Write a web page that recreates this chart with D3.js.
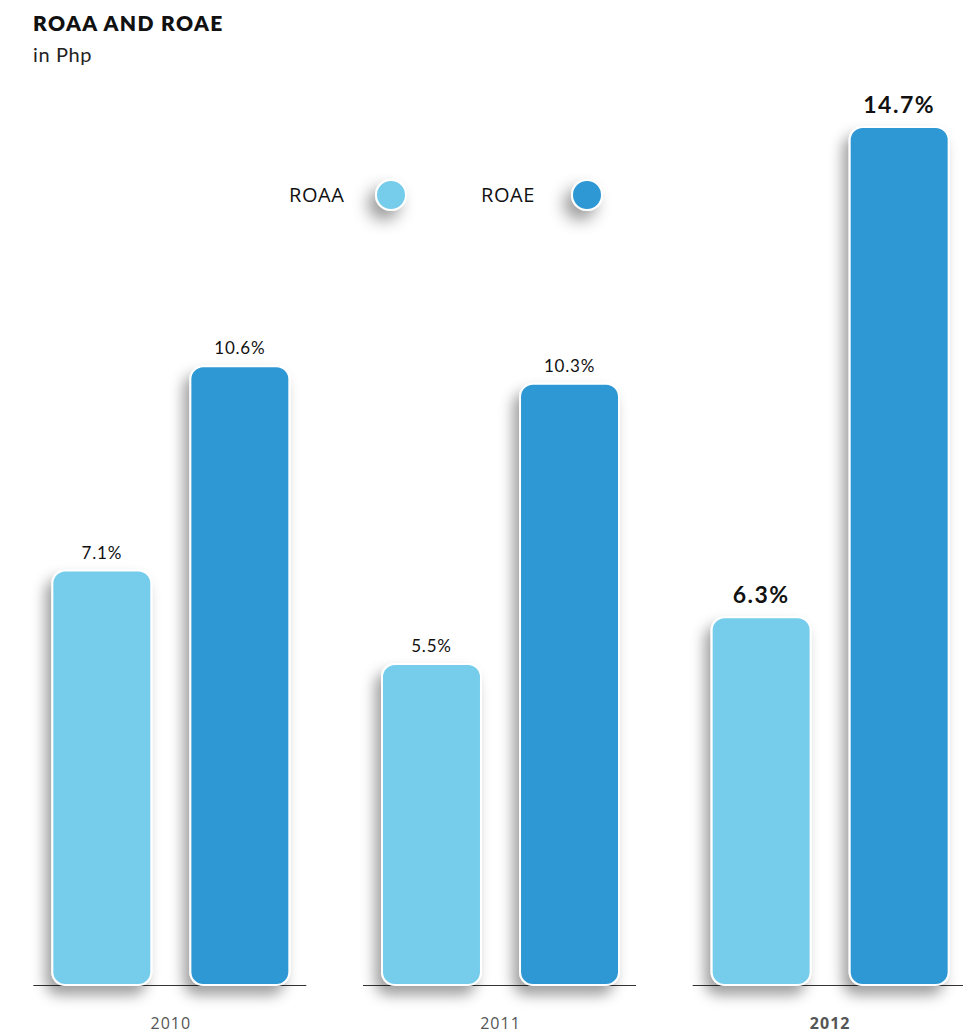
<!DOCTYPE html>
<html>
<head>
<meta charset="utf-8">
<script src="https://cdn.jsdelivr.net/npm/d3@7/dist/d3.min.js"></script>
<style>
  html, body { margin: 0; padding: 0; background: #fff; }
  svg { display: block; }
</style>
</head>
<body>
<svg id="chart" width="963" height="1034"></svg>
<script>
// Return on average assets / equity, per year
const years = ["2010", "2011", "2012"];
const seriesNames = ["ROAA", "ROAE"];
const roaa = [7.1, 5.5, 6.3];
const roae = [10.6, 10.3, 14.7];
const colors = ["#76cdeb", "#2f98d4"];
const highlightYear = "2012";

const svg = d3.select("#chart");
const baseY = 985;

// drop shadows for bars and legend dots
const defs = svg.append("defs");
const f = defs.append("filter").attr("id", "shadow")
  .attr("x", "-40%").attr("y", "-20%").attr("width", "170%").attr("height", "150%");
f.append("feDropShadow").attr("dx", -6).attr("dy", 9)
  .attr("stdDeviation", 7).attr("flood-color", "#000").attr("flood-opacity", 0.38);
const fd = defs.append("filter").attr("id", "dotShadow")
  .attr("x", "-150%").attr("y", "-150%").attr("width", "400%").attr("height", "400%");
fd.append("feDropShadow").attr("dx", -7).attr("dy", 9)
  .attr("stdDeviation", 8).attr("flood-color", "#000").attr("flood-opacity", 0.4);

// title
svg.append("text").attr("x", 33).attr("y", 31)
  .attr("font-family", "Lato, sans-serif").attr("font-weight", 800)
  .attr("font-size", 21).attr("letter-spacing", 1.4)
  .attr("fill", "#111").text("ROAA AND ROAE");
svg.append("text").attr("x", 33).attr("y", 62)
  .attr("font-family", "Lato, sans-serif").attr("font-size", 20)
  .attr("letter-spacing", 0.6)
  .attr("fill", "#222").text("in Php");

// scales
const x0 = d3.scaleBand().domain(years).range([6, 995]);
const x1 = d3.scaleBand().domain(seriesNames).range([0, 237]).paddingInner(0.283);
const y = d3.scaleLinear().domain([0, 14.7]).range([baseY, 127]);

const rows = years.map((yr, i) => ({ year: yr, values: [roaa[i], roae[i]] }));

const groups = svg.selectAll("g.year").data(rows).join("g")
  .attr("class", "year")
  .attr("transform", d => `translate(${x0(d.year) + x0.bandwidth() / 2 - 118.5},0)`);

// baseline segment under each pair
groups.append("line")
  .attr("x1", -19).attr("x2", 237 + 17)
  .attr("y1", baseY + 0.5).attr("y2", baseY + 0.5)
  .attr("stroke", "#333").attr("stroke-width", 1.2);

const cells = d => d.values.map((v, k) => ({ v, k, name: seriesNames[k], year: d.year }));

// bars
groups.selectAll("rect.bar")
  .data(cells)
  .join("rect")
  .attr("class", "bar")
  .attr("x", d => x1(d.name))
  .attr("y", d => y(d.v))
  .attr("width", x1.bandwidth())
  .attr("height", d => baseY - y(d.v))
  .attr("rx", 13).attr("ry", 13)
  .attr("fill", d => colors[d.k])
  .attr("stroke", "#fff").attr("stroke-width", 2)
  .attr("filter", "url(#shadow)");

// value labels
groups.selectAll("text.val")
  .data(cells)
  .join("text")
  .attr("class", "val")
  .attr("x", d => x1(d.name) + x1.bandwidth() / 2)
  .attr("y", d => y(d.v) - (d.year === highlightYear ? 14 : 12))
  .attr("text-anchor", "middle")
  .attr("font-family", "Lato, sans-serif")
  .attr("font-weight", d => d.year === highlightYear ? 700 : 400)
  .attr("font-size", d => d.year === highlightYear ? 23 : 17)
  .attr("letter-spacing", d => d.year === highlightYear ? 1.5 : 0.8)
  .attr("fill", "#111")
  .text(d => d.v.toFixed(1) + "%");

// year labels
groups.append("text")
  .attr("x", 118.5).attr("y", 1029)
  .attr("text-anchor", "middle")
  .attr("font-family", "'Open Sans', sans-serif")
  .attr("font-weight", d => d.year === highlightYear ? 700 : 400)
  .attr("font-size", 16).attr("letter-spacing", 1)
  .attr("fill", "#555")
  .text(d => d.year);

// legend
const legendItems = svg.append("g").selectAll("g").data(seriesNames).join("g")
  .attr("transform", (d, i) => `translate(${289 + i * 192},195)`);
legendItems.append("text")
  .attr("x", 0).attr("y", 7)
  .attr("font-family", "'Open Sans', sans-serif").attr("font-size", 20)
  .attr("letter-spacing", 0.6)
  .attr("fill", "#111").text(d => d);
legendItems.append("circle")
  .attr("cx", (d, i) => i === 0 ? 102 : 106).attr("cy", 0).attr("r", 15)
  .attr("fill", (d, i) => colors[i])
  .attr("stroke", "#fff").attr("stroke-width", 2)
  .attr("filter", "url(#dotShadow)");
</script>
</body>
</html>
